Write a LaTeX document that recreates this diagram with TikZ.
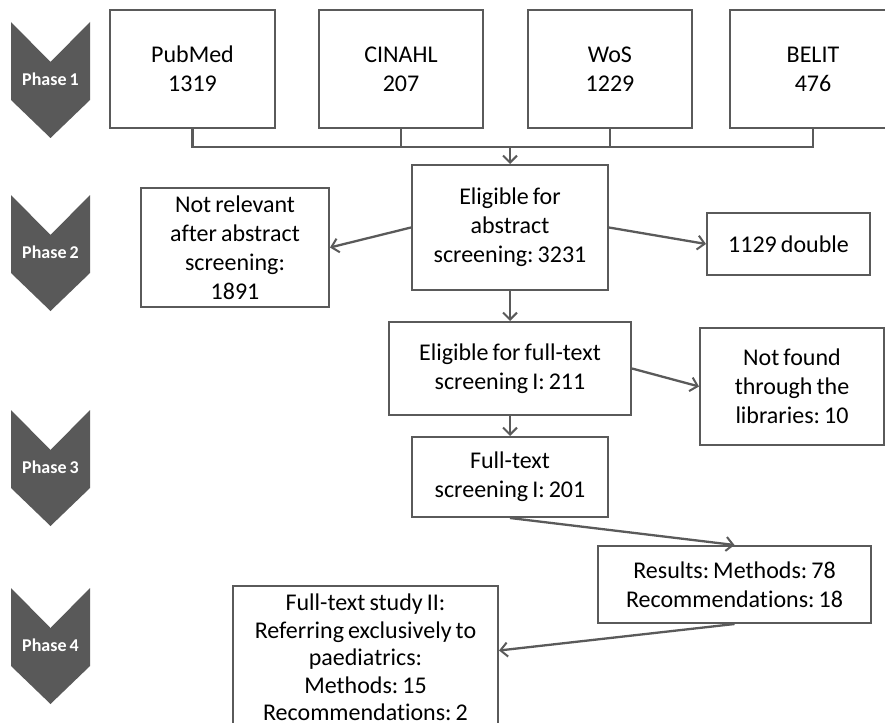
\documentclass[tikz,border=0pt]{standalone}
\usepackage{fontspec}
\setmainfont[Ligatures=NoCommon, WordSpace=0.75]{Carlito}
\usepackage{tikz}
\usetikzlibrary{arrows,arrows.meta,positioning}
\usepackage{xcolor}
\definecolor{fcgray}{RGB}{90,90,90}
\definecolor{fcdark}{RGB}{89,89,89}
\frenchspacing
\tikzstyle{arrow} = [line width=2.3pt,-{Straight Barb[length=7pt,width=14pt,line width=2pt]},color=fcgray]
\tikzstyle{bus} = [line width=2.3pt,color=fcgray]
\tikzstyle{stage} = [rectangle, inner sep=0pt, text centered, align=center, draw=fcgray, line width=2pt, fill=white, font=\fontsize{24}{29}\selectfont]
\tikzstyle{phaselabel} = [text=white, font=\fontsize{18}{20}\selectfont\bfseries]

\begin{document}
\begin{tikzpicture}[x=1pt, y=-1pt]
\useasboundingbox (0,0) rectangle (885,722);
% phases
\foreach \t/\n in {22/1,195/2,410/3,588/4}{
  \fill[fcdark] (11,\t) -- (50.5,\t+40) -- (90,\t) -- (90,\t+78) -- (50.5,\t+116) -- (11,\t+78) -- cycle;
  \node (phase\n) [phaselabel] at (50.5,\t+57) {Phase \n};
}
% databases
\node (pubmed) [stage, minimum width=165pt, minimum height=118pt] at (192.5,69) {PubMed\\1319};
\node (cinahl) [stage, right of=pubmed, node distance=208.5pt, minimum width=164pt, minimum height=118pt] {CINAHL\\207};
\node (wos) [stage, right of=cinahl, node distance=209pt, minimum width=164pt, minimum height=118pt] {WoS\\1229};
\node (belit) [stage, right of=wos, node distance=203pt, minimum width=166pt, minimum height=118pt] {BELIT\\476};
\coordinate (merge) at (510,147);

\node (abstract) [stage, minimum width=196pt, minimum height=125pt] at (510,227.5) {Eligible for\\abstract\\screening: 3231};
\node (notrel) [stage, minimum width=188pt, minimum height=119pt] at (235,247.5) {Not relevant\\after abstract\\screening:\\1891};
\node (double) [stage, minimum width=163pt, minimum height=62pt] at (788.5,244) {1129 double};
\node (fulltext) [stage, minimum width=242pt, minimum height=93pt] at (510,368.5) {Eligible for full-text\\screening I: 211};
\node (notfound) [stage, minimum width=184pt, minimum height=117pt] at (792,386.5) {Not found\\through the\\libraries: 10};
\node (screenone) [stage, minimum width=196pt, minimum height=80pt] at (510,477) {Full-text\\screening I: 201};
\node (results) [stage, minimum width=273pt, minimum height=77pt] at (734.5,584.5) {Results: Methods: 78\\Recommendations: 18};
\node (studytwo) [stage, minimum width=265pt, minimum height=143pt, font=\fontsize{24}{27.5}\selectfont] at (365.5,657.5) {Full-text study II:\\Referring exclusively to\\paediatrics:\\Methods: 15\\Recommendations: 2};

% connectors
\draw[bus] (pubmed.south) |- (merge) -| (belit.south);
\draw[bus] (cinahl.south) -- (cinahl.south |- merge);
\draw[bus] (wos.south) -- (wos.south |- merge);
\draw[arrow] (merge) -- (abstract.north);
\draw[arrow] (abstract.west) -- (notrel.east);
\draw[arrow] (abstract.east) -- (double.west);
\draw[arrow] (abstract.south) -- (fulltext.north);
\draw[arrow] (fulltext.east) -- (notfound.west);
\draw[arrow] (fulltext.south) -- (screenone.north);
\draw[arrow] (screenone.south) -- (results.north);
\draw[arrow] (results.south) -- ([yshift=7pt]studytwo.east);
\end{tikzpicture}
\end{document}
